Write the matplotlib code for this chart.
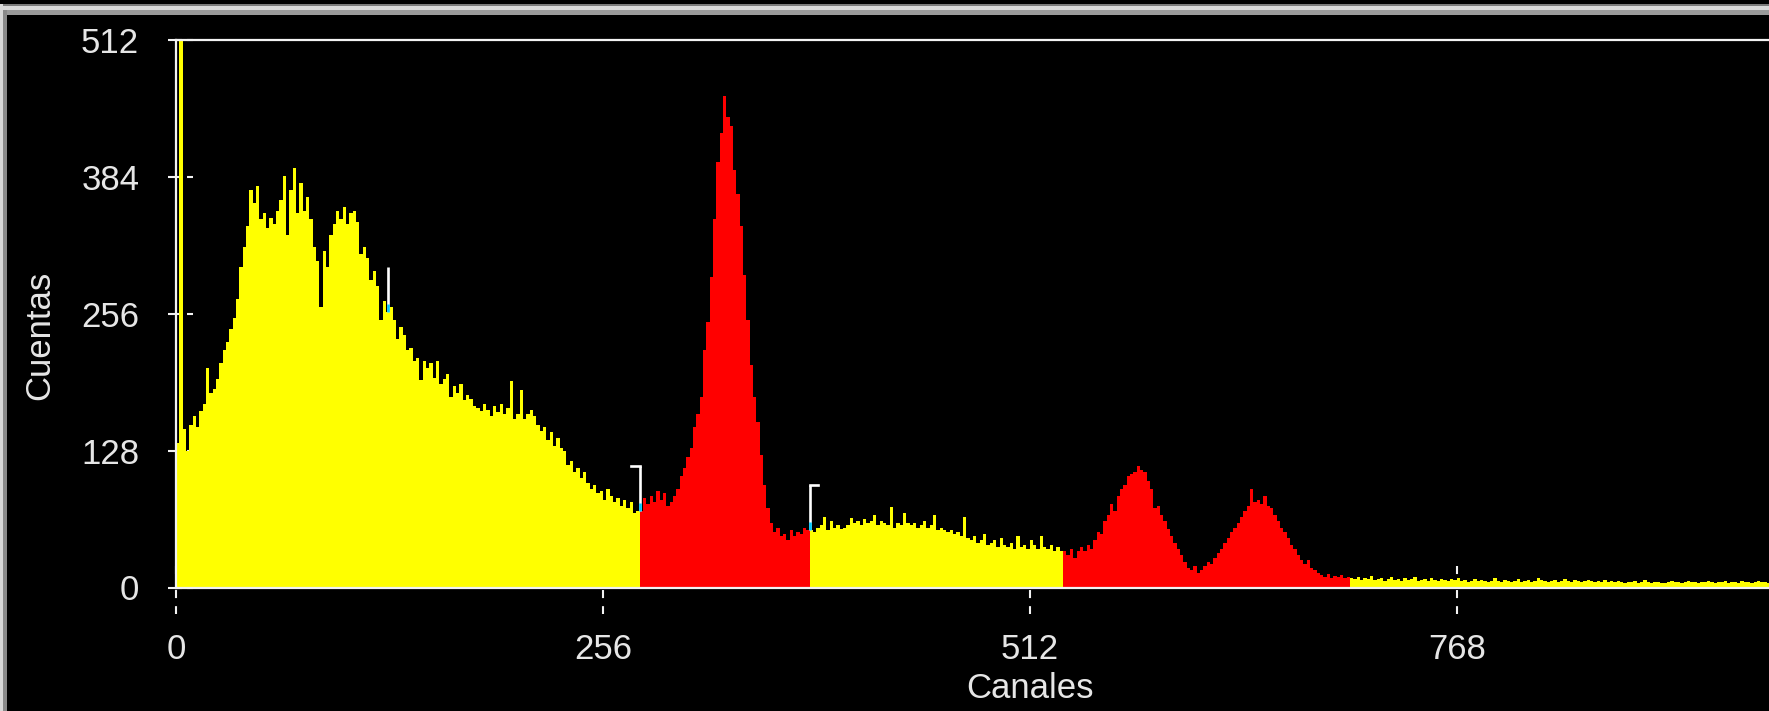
import numpy as np
import matplotlib
matplotlib.use("Agg")
import matplotlib.pyplot as plt
from matplotlib.lines import Line2D
from matplotlib.patches import Rectangle
from matplotlib.transforms import IdentityTransform

# ---------------- data (counts per 2-channel bin) ----------------
BIN = 2
roi_starts = [0, 278, 380, 532, 704]
roi_colors = ["#ffff00", "#ff0000", "#ffff00", "#ff0000", "#ffff00"]

counts_bg_low = [
    135, 600, 148, 128, 152, 160, 150, 165, 172, 205,
    182, 186, 195, 210, 222, 230, 242, 252, 270, 300,
    318, 338, 372, 360, 375, 345, 350, 336, 346, 340,
    352, 362, 385, 330, 372, 392, 350, 378, 352, 365,
    345, 318, 305, 262, 315, 300, 330, 340, 352, 345,
    356, 340, 350, 352, 342, 312, 318, 308, 288, 296,
    282, 250, 268, 258, 262, 250, 232, 244, 236, 222,
    224, 212, 215, 194, 212, 205, 210, 196, 212, 190,
    195, 200, 178, 188, 182, 190, 175, 180, 176, 170,
    168, 165, 172, 166, 160, 170, 164, 172, 162, 168,
    193, 158, 162, 185, 158, 162, 166, 160, 152, 146,
    150, 138, 145, 132, 140, 130, 128, 115, 118, 108,
    112, 102, 108, 98, 92, 96, 88, 90, 82, 92,
    86, 80, 84, 76, 82, 74, 80, 70, 72,
]
counts_peak1 = [
    72, 84, 78, 86, 80, 90, 82, 88, 76, 80,
    86, 92, 104, 112, 122, 130, 150, 162, 178, 222,
    248, 290, 345, 398, 425, 460, 440, 432, 390, 368,
    338, 292, 250, 208, 178, 155, 124, 96, 74, 60,
    52, 56, 48, 50, 44, 54, 48, 52, 50, 56,
    54,
]
counts_bg_mid = [
    54, 52, 56, 58, 66, 54, 62, 56, 58, 55,
    56, 58, 65, 60, 62, 58, 64, 60, 62, 68,
    58, 62, 60, 58, 75, 56, 60, 58, 70, 60,
    58, 60, 56, 58, 62, 56, 58, 68, 54, 56,
    54, 52, 54, 50, 52, 48, 66, 46, 44, 48,
    42, 44, 50, 40, 42, 44, 38, 46, 40, 38,
    42, 36, 48, 38, 40, 36, 44, 40, 36, 48,
    38, 36, 40, 34, 38, 34,
]
counts_peak23 = [
    34, 30, 36, 28, 34, 38, 34, 40, 36, 44,
    52, 50, 62, 68, 78, 72, 86, 92, 96, 104,
    106, 108, 114, 110, 108, 100, 92, 74, 76, 68,
    62, 55, 48, 42, 36, 30, 24, 18, 16, 20,
    14, 16, 20, 24, 22, 28, 32, 36, 42, 46,
    52, 56, 60, 66, 72, 76, 92, 80, 82, 78,
    86, 76, 74, 68, 62, 56, 52, 46, 40, 36,
    30, 26, 22, 26, 18, 16, 14, 12, 10, 13,
    9, 11, 10, 12, 9, 10,
]
counts_tail = [
    9, 8, 10, 7, 9, 8, 11, 7, 8, 9, 6, 8, 10, 7, 8, 6, 9, 7, 8, 10,
    6, 7, 8, 6, 9, 7, 6, 8, 7,
    6, 8, 7, 9, 6, 7, 5, 6, 8, 6, 7, 6, 5, 6, 9, 6, 5, 7, 6, 5,
    6, 8, 5, 6, 7, 5, 6, 9, 7, 6, 5, 6, 7, 5, 6, 8, 6, 5, 7, 6,
    5, 6, 7, 6, 5, 6, 5, 7, 5, 6,
    5, 6, 5, 4, 5, 5, 6, 4, 5, 7, 5, 4, 5, 5, 4, 4, 5, 6, 5, 5,
    4, 5, 6, 5, 5, 4, 5, 5, 6, 5, 4, 5, 5, 6, 4, 5, 5, 4, 6, 5,
    5, 4, 5, 6, 5, 5, 4, 5,
]
regions = [counts_bg_low, counts_peak1, counts_bg_mid, counts_peak23, counts_tail]

x_ticks = [0, 256, 512, 768]
y_ticks = [0, 128, 256, 384, 512]
x_label = "Canales"
y_label = "Cuentas"
# ROI cursor markers: (channel, kind)
cursor_marks = [(127, "|"), (278, "]"), (380, "[")]

# ---------------- figure ----------------
plt.rcParams["lines.scale_dashes"] = False
FONT = "Liberation Sans"
TXT = "#e6e6e6"
W, H, DPI = 1769, 711, 100
fig = plt.figure(figsize=(W / DPI, H / DPI), dpi=DPI, facecolor="black")

left_px, top_px, bot_px = 176, 40, 587.5
px_per_ch = 1.6676
ax = fig.add_axes([left_px / W, 1 - bot_px / H, (W - left_px) / W, (bot_px - top_px) / H])
ax.set_facecolor("black")
ax.set_xlim(0, (W - left_px) / px_per_ch)
ax.set_ylim(0, 512)

for start, vals, col in zip(roi_starts, regions, roi_colors):
    edges = start + BIN * np.arange(len(vals) + 1)
    ax.stairs(vals, edges, fill=True, color=col, linewidth=0, zorder=1)

for s in ["left", "bottom", "top"]:
    ax.spines[s].set_color("#f2f2f2")
    ax.spines[s].set_linewidth(1.6)
    ax.spines[s].set_zorder(3)
ax.spines["right"].set_visible(False)

ax.set_xticks(x_ticks, labels=[str(v) for v in x_ticks])
ax.set_yticks(y_ticks, labels=[str(v) for v in y_ticks])
ax.tick_params(axis="both", length=0, labelcolor=TXT, labelsize=25)
ax.tick_params(axis="x", pad=33)
ax.tick_params(axis="y", pad=26.5)
for lab in ax.get_xticklabels() + ax.get_yticklabels():
    lab.set_fontfamily(FONT)

# dashed tick marks (drawn in pixel space, beneath the spectrum)
fig.canvas.draw()
T = ax.transData
for v in y_ticks:
    X, Y = T.transform((0, v))
    ax.add_artist(Line2D([X - 8, X + 17], [Y, Y], transform=IdentityTransform(),
                         color="#f2f2f2", lw=1.5, ls=(0, (10.1, 3.6, 4.3, 50)),
                         zorder=0.5, clip_on=False))
for v in x_ticks:
    X, Y = T.transform((v, 0))
    ax.add_artist(Line2D([X, X], [Y + 22, Y - 26], transform=IdentityTransform(),
                         color="#f2f2f2", lw=1.5,
                         ls=(0, (5.8, 11.5, 5.8, 5.8, 5.8, 50)),
                         zorder=0.5, clip_on=False))

# ROI cursors
def value_at(ch):
    for start, vals in zip(roi_starts, regions):
        i = (ch - start) // BIN
        if 0 <= i < len(vals):
            return vals[i]
    return 0

for ch, kind in cursor_marks:
    v = value_at(ch)
    ax.plot([ch, ch], [v, v + 42], color="white", lw=1.9, zorder=4, solid_capstyle="butt")
    ax.plot([ch, ch], [v, v + 7], color="#00c8ff", lw=1.9, zorder=4, solid_capstyle="butt")
    if kind == "]":
        ax.plot([ch - 5, ch], [v + 42, v + 42], color="white", lw=1.9, zorder=4)
    elif kind == "[":
        ax.plot([ch, ch + 5], [v + 42, v + 42], color="white", lw=1.9, zorder=4)

# axis titles
fig.text(40 / W, 1 - 335 / H, y_label, rotation=90, ha="center", va="center",
         color=TXT, fontsize=25, family=FONT)
fig.text(1030 / W, 1 - 688 / H, x_label, ha="center", va="center",
         color=TXT, fontsize=25, family=FONT)

# window bevel border (top and left)
def band(x0, y0, w, h, c):
    fig.add_artist(Rectangle((x0 / W, 1 - (y0 + h) / H), w / W, h / H,
                             transform=fig.transFigure, color=c, lw=0, zorder=6))
band(0, 4, W, 2, "#7a7a7a")
band(0, 6, W, 4, "#d8d8d8")
band(0, 10, W, 5, "#9a9a9a")
band(0, 4, 3, H - 4, "#d8d8d8")
band(3, 10, 4, H - 10, "#8a8a8a")

fig.savefig("out.png", dpi=DPI, facecolor="black")
